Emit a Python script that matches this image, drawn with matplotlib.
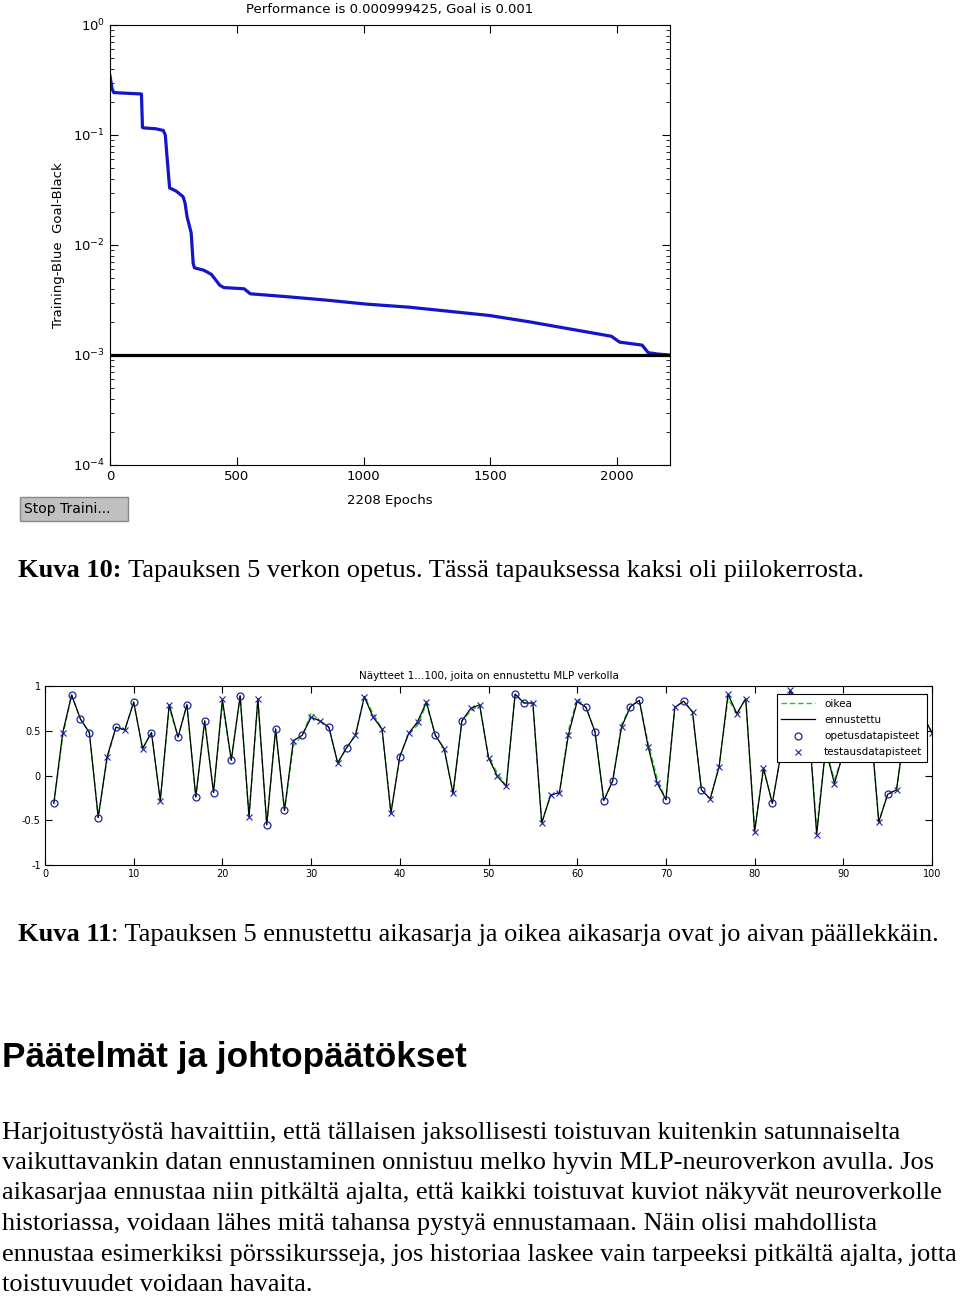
import matplotlib
matplotlib.use("Agg")
from matplotlib import pyplot as plt
from matplotlib.patches import Rectangle
import numpy as np

# training curve (Kuva 10)
epochs = [0, 8, 15, 60, 124, 128, 134, 180, 210, 218, 225, 235, 260, 288, 296, 304,
          320, 328, 333, 370, 400, 433, 449, 529, 553, 690, 850, 1012, 1180, 1334,
          1494, 1655, 1816, 1977, 2009, 2098, 2122, 2160, 2208]
performance = [0.345, 0.263, 0.243, 0.240, 0.236, 0.117, 0.116, 0.114, 0.110, 0.100,
               0.063, 0.033, 0.031, 0.0275, 0.024, 0.018, 0.0129, 0.0068, 0.0062,
               0.0059, 0.0054, 0.0043, 0.0041, 0.0040, 0.0036, 0.0034, 0.00316,
               0.0029, 0.00272, 0.0025, 0.00229, 0.0020, 0.00172, 0.00148, 0.00131,
               0.00123, 0.00105, 0.00102, 0.000999]
goal = 0.001

# time series (Kuva 11)
ennustettu = [-0.31, 0.48, 0.90, 0.63, 0.48, -0.47, 0.21, 0.54, 0.51, 0.82,
              0.30, 0.48, -0.28, 0.79, 0.43, 0.79, -0.24, 0.61, -0.19, 0.85,
              0.17, 0.89, -0.46, 0.86, -0.55, 0.52, -0.39, 0.39, 0.45, 0.65,
              0.61, 0.54, 0.14, 0.31, 0.45, 0.88, 0.65, 0.52, -0.42, 0.21,
              0.47, 0.60, 0.82, 0.45, 0.30, -0.20, 0.61, 0.75, 0.79, 0.20,
              -0.01, -0.12, 0.91, 0.81, 0.81, -0.53, -0.22, -0.19, 0.45, 0.83,
              0.76, 0.49, -0.28, -0.06, 0.54, 0.77, 0.84, 0.32, -0.08, -0.27,
              0.76, 0.83, 0.71, -0.16, -0.26, 0.10, 0.91, 0.69, 0.86, -0.63,
              0.08, -0.31, 0.26, 0.95, 0.80, 0.72, -0.66, 0.30, -0.09, 0.25,
              0.62, 0.85, 0.67, -0.52, -0.21, -0.16, 0.55, 0.80, 0.66, 0.48]
oikea = [-0.31, 0.44, 0.90, 0.63, 0.48, -0.47, 0.18, 0.54, 0.51, 0.82,
         0.30, 0.48, -0.28, 0.76, 0.43, 0.79, -0.24, 0.61, -0.19, 0.80,
         0.17, 0.89, -0.46, 0.84, -0.55, 0.52, -0.39, 0.33, 0.45, 0.70,
         0.61, 0.54, 0.14, 0.31, 0.45, 0.88, 0.69, 0.52, -0.42, 0.21,
         0.47, 0.56, 0.80, 0.45, 0.30, -0.20, 0.61, 0.72, 0.79, 0.20,
         0.03, -0.12, 0.91, 0.81, 0.81, -0.53, -0.22, -0.19, 0.50, 0.86,
         0.76, 0.49, -0.28, -0.06, 0.57, 0.77, 0.84, 0.36, -0.03, -0.27,
         0.76, 0.83, 0.71, -0.16, -0.26, 0.10, 0.86, 0.69, 0.86, -0.60,
         0.08, -0.31, 0.26, 0.95, 0.80, 0.72, -0.60, 0.30, -0.05, 0.25,
         0.62, 0.85, 0.67, -0.52, -0.21, -0.16, 0.55, 0.80, 0.66, 0.48]
opetus_idx = [1, 3, 4, 5, 6, 8, 10, 12, 15, 16, 17, 18, 19, 21, 22, 25, 26, 27, 29,
              32, 34, 40, 44, 47, 53, 54, 61, 62, 63, 64, 66, 67, 70, 72, 74, 82, 83,
              85, 88, 91, 93, 95, 98]

W, H = 960, 1296
fig = plt.figure(figsize=(W / 100, H / 100), dpi=100)
narrow = ['Liberation Sans Narrow', 'DejaVu Sans']

def fx(x):
    return x / W

def fy(y):
    return 1 - y / H

# ---- top chart ----
ax1 = fig.add_axes([fx(110), fy(465), 560 / W, 440 / H])
ax1.semilogy(epochs, performance, color='#1414c8', lw=2.3)
ax1.axhline(goal, color='black', lw=2.3)
ax1.set_xlim(0, 2208)
ax1.set_ylim(1e-4, 1)
ax1.set_xticks([0, 500, 1000, 1500, 2000])
ax1.tick_params(which='both', direction='in', top=True, right=True, labelsize=9.5)
ax1.tick_params(which='major', length=6)
ax1.tick_params(which='minor', length=3)
ax1.tick_params(axis='x', which='minor', top=False, bottom=False)
for lab in ax1.get_xticklabels():
    lab.set_family(narrow)
ax1.set_title('Performance is 0.000999425, Goal is 0.001', fontsize=9.5,
              family=narrow, pad=9)
ax1.set_xlabel('2208 Epochs', fontsize=9.5, family=narrow, labelpad=8)
ax1.set_ylabel('Training-Blue  Goal-Black', fontsize=9.5, family=narrow, labelpad=6)

# stop button
fig.patches.append(Rectangle((fx(20), fy(521)), 108 / W, 24 / H, transform=fig.transFigure,
                             facecolor='#c0c0c0', edgecolor='#888888', lw=1))
fig.text(fx(24), fy(509), 'Stop Traini...', fontsize=10, va='center', family='DejaVu Sans')

# ---- second chart ----
ax2 = fig.add_axes([fx(45), fy(865), 887 / W, 179 / H])
x = np.arange(1, 101)
e = np.array(ennustettu)
o = np.array(oikea)
is_train = np.isin(x, opetus_idx)
ax2.plot(x, o, color='#22cc22', ls=(0, (4, 2)), lw=1, label='oikea')
ax2.plot(x, e, color='black', lw=0.9, label='ennustettu')
ax2.plot(x[is_train], e[is_train], 'o', mfc='none', mec='#2020a0', ms=5, mew=0.9,
         label='opetusdatapisteet')
ax2.plot(x[~is_train], e[~is_train], 'x', color='#2020a0', ms=4, mew=0.8,
         label='testausdatapisteet')
ax2.set_xlim(0, 100)
ax2.set_ylim(-1, 1)
ax2.set_xticks(range(0, 101, 10))
ax2.set_yticks([-1, -0.5, 0, 0.5, 1])
ax2.set_yticklabels(['-1', '-0.5', '0', '0.5', '1'])
ax2.tick_params(direction='in', top=True, right=True, labelsize=7, length=5, pad=3)
ax2.set_title('Näytteet 1...100, joita on ennustettu MLP verkolla', fontsize=7.5, pad=5)
leg = ax2.legend(loc='upper right', bbox_to_anchor=(0.9944, 0.955), borderaxespad=0,
                 fontsize=7.5, fancybox=False, edgecolor='black', framealpha=1,
                 handlelength=3.2, handletextpad=0.9, borderpad=0.45, labelspacing=0.6)
leg.get_frame().set_linewidth(0.8)

# ---- page text ----
r = fig.canvas.get_renderer()
serif = 'Liberation Serif'

def mixed(x0, y, parts, size, family):
    xp = x0
    for s, w in parts:
        t = fig.text(fx(xp), fy(y), s, fontsize=size, fontweight=w, family=family,
                     va='baseline')
        xp = t.get_window_extent(r).x1

mixed(18, 577, [('Kuva 10:', 'bold'), (' Tapauksen 5 verkon opetus. Tässä tapauksessa kaksi oli piilokerrosta.', 'normal')], 19, serif)
mixed(18, 941, [('Kuva 11', 'bold'), (': Tapauksen 5 ennustettu aikasarja ja oikea aikasarja ovat jo aivan päällekkäin.', 'normal')], 19, serif)

fig.text(fx(2), fy(1067), 'Päätelmät ja johtopäätökset', fontsize=25.3, fontweight='bold',
         family='Liberation Sans', va='baseline')

lines = [
    'Harjoitustyöstä havaittiin, että tällaisen jaksollisesti toistuvan kuitenkin satunnaiselta',
    'vaikuttavankin datan ennustaminen onnistuu melko hyvin MLP-neuroverkon avulla. Jos',
    'aikasarjaa ennustaa niin pitkältä ajalta, että kaikki toistuvat kuviot näkyvät neuroverkolle',
    'historiassa, voidaan lähes mitä tahansa pystyä ennustamaan. Näin olisi mahdollista',
    'ennustaa esimerkiksi pörssikursseja, jos historiaa laskee vain tarpeeksi pitkältä ajalta, jotta',
    'toistuvuudet voidaan havaita.',
]
baselines = [1139, 1169, 1199, 1230, 1261, 1291]
for s, yb in zip(lines, baselines):
    fig.text(fx(2), fy(yb), s, fontsize=19, family=serif, va='baseline')

fig.savefig('out.png', dpi=100)
